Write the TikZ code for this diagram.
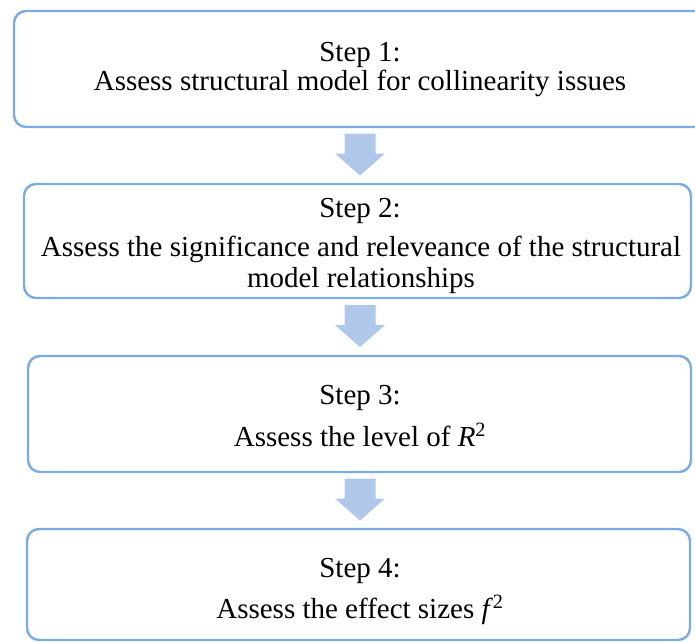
\documentclass[tikz,border=0pt]{standalone}
\usepackage{fontspec}
\setmainfont{Liberation Serif}
\usetikzlibrary{calc}
\definecolor{boxline}{RGB}{122,172,226}
\definecolor{arrowfill}{RGB}{175,200,234}
\begin{document}
\begin{tikzpicture}[x=1pt,y=-1pt,
  stepbox/.style={draw=boxline, line width=2.4pt, rounded corners=12pt, fill=white},
  steptext/.style={anchor=base, inner sep=0pt, font=\fontsize{29}{34}\selectfont},
  downarrow/.pic={
    \fill[arrowfill] (-15.5,-22) -- (15.5,-22) -- (15.5,-2) -- (25,-2)
      -- (0,20) -- (-25,-2) -- (-15.5,-2) -- cycle;
  }]
  \useasboundingbox (0,0) rectangle (695,642);
  \begin{scope}
    \clip (0,0) rectangle (695,642);
    % boxes
    \draw[stepbox] (14,11) rectangle (735,127);
    \draw[stepbox] (24,184) rectangle (691,298);
    \draw[stepbox] (28,356) rectangle (691,472);
    \draw[stepbox] (27,529) rectangle (690,640);
  \end{scope}
  \coordinate (b1s) at (360,127);
  \coordinate (b2n) at (360,184);
  \coordinate (b2s) at (360,298);
  \coordinate (b3n) at (360,356);
  \coordinate (b3s) at (360,472);
  \coordinate (b4n) at (360,529);
  % block arrows between steps
  \pic (a1) at ($ (b1s)!0.5!(b2n) $) {downarrow};
  \pic (a2) at ($ (b2s)!0.5!(b3n) $) {downarrow};
  \pic (a3) at ($ (b3s)!0.5!(b4n) $) {downarrow};
  % texts
  \node[steptext] (t1a) at (360,62) {Step 1:};
  \node[steptext] (t1b) at (360,90) {Assess structural model for collinearity issues};
  \node[steptext] (t2a) at (360,217) {Step 2:};
  \node[steptext] (t2b) at (361,256) {Assess the significance and releveance of the structural};
  \node[steptext] (t2c) at (361,287) {model relationships};
  \node[steptext] (t3a) at (360,404) {Step 3:};
  \node[steptext] (t3b) at (360,446) {Assess the level of \textit{R}\textsuperscript{2}};
  \node[steptext] (t4a) at (360,577) {Step 4:};
  \node[steptext] (t4b) at (360,618) {Assess the effect sizes \textit{f}\textsuperscript{2}};
\end{tikzpicture}
\end{document}
